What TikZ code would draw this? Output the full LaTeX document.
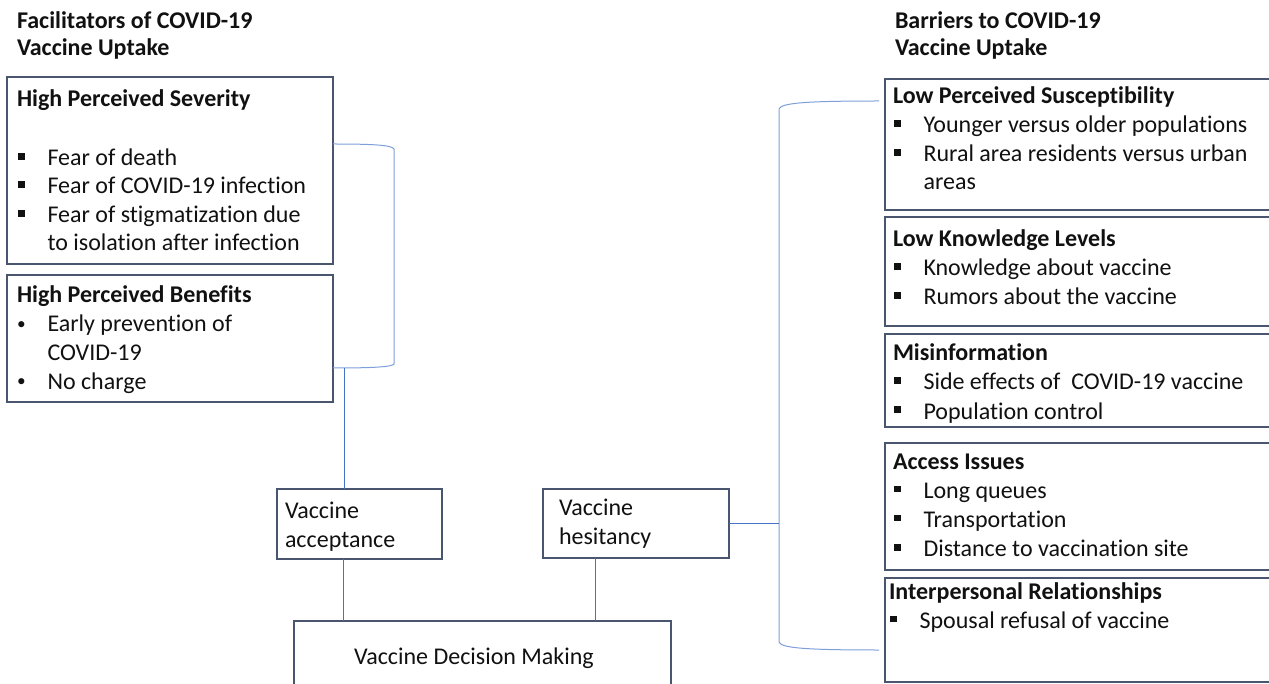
\documentclass[tikz,border=0pt]{standalone}
\usepackage{fontspec}
\setmainfont{Carlito}[RawFeature=-liga]
\definecolor{boxc}{HTML}{4A5670}
\definecolor{linec}{HTML}{4472C4}
\definecolor{brkc}{HTML}{7F9FDA}
\definecolor{txtc}{HTML}{111111}
\newcommand\sqb{\makebox[29.5pt][l]{\rule[6pt]{6.5pt}{6.5pt}}}
\newcommand\rdb{\makebox[30.5pt][l]{\raisebox{2pt}{\scalebox{0.72}{\textbullet}}}}
\begin{document}
\begin{tikzpicture}[x=1pt,y=-1pt,
  box/.style={draw=boxc, line width=1.3pt, fill=white, inner sep=0pt, outer sep=0pt, anchor=north west},
  txt/.style={anchor=base west, inner sep=0pt, outer sep=0pt, text=txtc, font=\fontsize{24}{29}\selectfont},
  hd/.style={txt, font=\fontsize{24}{29}\selectfont\bfseries},
  ttl/.style={txt, font=\fontsize{24}{29}\selectfont\bfseries},
  conn/.style={draw=linec, line width=1.1pt},
  brk/.style={draw=brkc, line width=1pt}]
\useasboundingbox[fill=white] (0,0) rectangle (1269,684);

% titles
\node[ttl] (t1a) at (17,29) {Facilitators of COVID-19};
\node[ttl] (t1b) at (17,56) {Vaccine Uptake};
\node[ttl] (t2a) at (895,29) {Barriers to COVID-19};
\node[ttl] (t2b) at (895,56) {Vaccine Uptake};

% left boxes
\node[box, minimum width=326pt, minimum height=187pt] (sev) at (7,77) {};
\node[hd] (sevh) at (17,107) {High Perceived Severity};
\node[txt] (sev1) at (18,166) {\sqb Fear of death};
\node[txt] (sev2) at (18,194) {\sqb Fear of COVID-19 infection};
\node[txt] (sev3) at (18,223) {\sqb Fear of stigmatization due};
\node[txt] (sev4) at (47.5,251) {to isolation after infection};

\node[box, minimum width=326pt, minimum height=127pt] (ben) at (7,275) {};
\node[hd] (benh) at (17,302.5) {High Perceived Benefits};
\node[txt] (ben1) at (17,332) {\rdb Early prevention of};
\node[txt] (ben2) at (47.5,360.5) {COVID-19};
\node[txt] (ben3) at (17,389) {\rdb No charge};

% middle boxes
\node[box, minimum width=165pt, minimum height=70pt] (acc) at (277,489) {};
\node[txt] (acc1) at (285,518) {Vaccine};
\node[txt] (acc2) at (285,547) {acceptance};
\node[box, minimum width=186pt, minimum height=69pt] (hes) at (543,489) {};
\node[txt] (hes1) at (559,515) {Vaccine};
\node[txt] (hes2) at (559,544) {hesitancy};
\node[box, minimum width=377pt, minimum height=90pt] (dm) at (294,621) {};
\node[txt] (dmt) at (354,664) {Vaccine Decision Making};

% right boxes
\node[box, minimum width=420pt, minimum height=131pt] (sus) at (885,79) {};
\node[hd] (sush) at (893,103.3) {Low Perceived Susceptibility};
\node[txt] (sus1) at (894,132.7) {\sqb Younger versus older populations};
\node[txt] (sus2) at (894,161.7) {\sqb Rural area residents versus urban};
\node[txt] (sus3) at (923.5,190) {areas};

\node[box, minimum width=420pt, minimum height=109pt] (kno) at (885,217) {};
\node[hd] (knoh) at (893,246.7) {Low Knowledge Levels};
\node[txt] (kno1) at (894,276) {\sqb Knowledge about vaccine};
\node[txt] (kno2) at (894,305) {\sqb Rumors about the vaccine};

\node[box, minimum width=420pt, minimum height=93pt] (mis) at (885,334) {};
\node[hd] (mish) at (893,360.7) {Misinformation};
\node[txt] (mis1) at (894,390) {\sqb Side effects of\ \ COVID-19 vaccine};
\node[txt] (mis2) at (894,419) {\sqb Population control};

\node[box, minimum width=420pt, minimum height=127pt] (acs) at (885,443) {};
\node[hd] (acsh) at (893,469) {Access Issues};
\node[txt] (acs1) at (894,498.3) {\sqb Long queues};
\node[txt] (acs2) at (894,527.3) {\sqb Transportation};
\node[txt] (acs3) at (894,556.7) {\sqb Distance to vaccination site};

\node[box, minimum width=420pt, minimum height=104pt] (ipr) at (885,578) {};
\node[hd] (iprh) at (889,599.3) {Interpersonal Relationships};
\node[txt] (ipr1) at (890,628.3) {\sqb Spousal refusal of vaccine};

% left bracket
\coordinate (lbt) at (333,144);
\coordinate (lbb) at (333,368);
\draw[brk] (lbt) .. controls (372,144) and (392,145) .. (394,149) -- (394,364)
  .. controls (392,367) and (372,368) .. (lbb);
\coordinate (lb) at (344.5,368);
\draw[conn] (lb) -- (lb |- acc.north);

% connectors to decision
\coordinate (a1) at (343.5,559);
\draw[conn] (a1) -- (a1 |- dm.north);
\coordinate (h1) at (595.5,558);
\draw[conn] (h1) -- (h1 |- dm.north);

% right bracket
\coordinate (rbt) at (879,101);
\coordinate (rbb) at (879,650);
\coordinate (rb) at (779,0);
\draw[brk] (rbt) .. controls (805,101) and (781,103) .. (779,109) -- (779,642)
  .. controls (781,648) and (805,650) .. (rbb);
\draw[conn] (hes.east) -- (hes.east -| rb);
\end{tikzpicture}
\end{document}
